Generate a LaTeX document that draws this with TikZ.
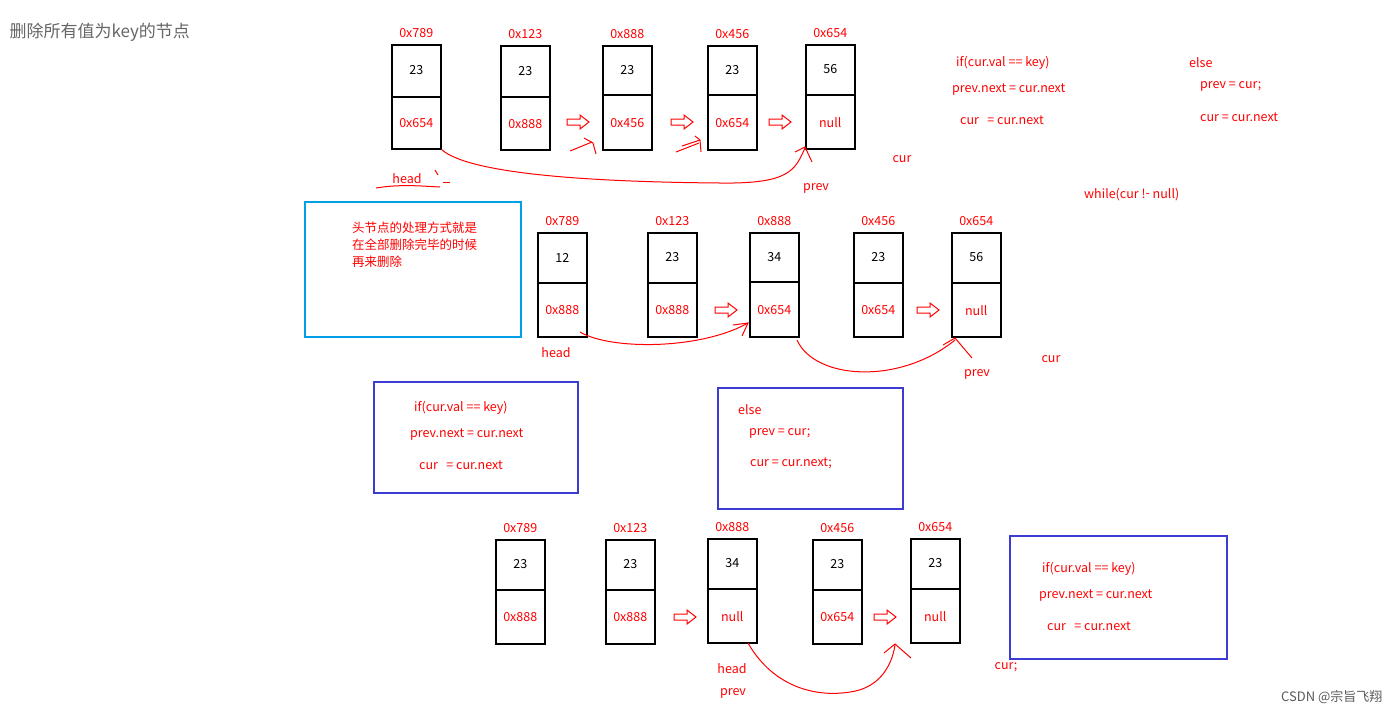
\documentclass[tikz,border=0pt]{standalone}
\usepackage{fontspec}
\setmainfont{Noto Sans CJK SC}
\usetikzlibrary{calc}
\begin{document}
\begin{tikzpicture}[x=1pt,y=-1pt,
  box/.style={draw=black,line width=1.5pt,minimum width=49pt,minimum height=104pt,inner sep=0pt},
  rt/.style={text=red,font=\fontsize{12.5}{15}\selectfont,inner sep=1pt},
  bt/.style={text=black,font=\fontsize{12.5}{15}\selectfont,inner sep=1pt},
  ink/.style={red,line width=1pt},
  cbox/.style={line width=2.2pt,inner sep=0pt}]
\useasboundingbox (0,0) rectangle (1398,716);
\newcommand\nd[7]{% name x y div top bottom addr
  \node[box,anchor=north west] (#1) at (#2,#3) {};
  \draw[line width=1.5pt] (#1.west |- 0,#4) -- (#1.east |- 0,#4);
  \node[rt] (#1a) at ([yshift=11pt]#1.north) {#7};
  \node[bt] (#1t) at ($(#1.north)!0.5!(#1.north |- 0,#4)$) {#5};
  \node[rt] (#1b) at ($(#1.south)!0.5!(#1.south |- 0,#4)$) {#6};}
\newcommand\harrow[2]{\draw[red,line width=1pt] (#1-11,#2-3) -- (#1+2,#2-3) -- (#1+2,#2-7) -- (#1+11,#2) -- (#1+2,#2+7) -- (#1+2,#2+3) -- (#1-11,#2+3) -- cycle;}
\node[anchor=west,text=gray!80!black,font=\fontsize{17}{20}\selectfont] (title) at (6,32) {删除所有值为key的节点};
% row 1
\nd{a1}{391}{44}{97}{23}{0x654}{0x789}
\nd{a2}{500}{45}{97}{23}{0x888}{0x123}
\nd{a3}{602}{45}{95}{23}{0x456}{0x888}
\nd{a4}{707}{45}{95}{23}{0x654}{0x456}
\nd{a5}{805}{44}{95}{56}{null}{0x654}
\harrow{578}{122}\harrow{682}{122}\harrow{780}{122}
\draw[ink] (570,151) -- (592,142); \draw[ink] (584,138) -- (593,143) -- (596,154);
\draw[ink] (676,152) -- (699,143); \draw[ink] (682,146) -- (700,140); \draw[ink] (695,136) -- (700,140) -- (701,152);
\draw[ink] (a1.south east) .. controls (470,175) and (600,182) .. (720,183) .. controls (790,184) and (795,170) .. (805,148);
\draw[ink] (795,152) -- (805,147) -- (812,162);
\node[rt] (h1) at (407,179) {head};
\draw[ink] (376,188) .. controls (400,184) and (420,186) .. (440,187);
\draw[ink] (435,170) -- (438,175); \draw[ink] (443,182) -- (450,182);
\node[rt] (p1) at (816,188) {prev};
\node[rt] (c1) at (902,159) {cur};
\node[rt,anchor=west] (i1) at (955,63) {if(cur.val == key)};
\node[rt,anchor=west] (i2) at (951,90) {prev.next = cur.next};
\node[rt,anchor=west] (i3) at (959,120) {cur \ \ = cur.next};
\node[rt,anchor=west] (e1) at (1188,63) {else};
\node[rt,anchor=west] (e2) at (1199,86) {prev = cur;};
\node[rt,anchor=west] (e3) at (1199,117) {cur = cur.next};
\node[rt,anchor=west] (w1) at (1083,195) {while(cur !\raisebox{1pt}{-} null)};
% row 2
\node[cbox,draw={rgb,255:red,0;green,160;blue,230},minimum width=216pt,minimum height=135pt,anchor=north west] (cb) at (304,201) {};
\node[rt,anchor=north west,align=left] (cbt) at (351,221) {头节点的处理方式就是\\[2pt]在全部删除完毕的时候\\[2pt]再来删除};
\nd{b1}{537}{232}{283}{12}{0x888}{0x789}
\nd{b2}{647}{232}{283}{23}{0x888}{0x123}
\nd{b3}{749}{232}{282}{34}{0x654}{0x888}
\nd{b4}{853}{232}{283}{23}{0x654}{0x456}
\nd{b5}{951}{232}{283}{56}{null}{0x654}
\harrow{726}{310}\harrow{928}{310}
\draw[ink] (580,332) .. controls (610,350) and (700,350) .. (748,323);
\draw[ink] (733,325) -- (748,323) -- (742,336);
\draw[ink] (797,340) .. controls (815,380) and (900,385) .. (955,340);
\draw[ink] (943,345) -- (955,338) -- (972,358);
\node[rt] (h2) at (556,353) {head};
\node[rt] (p2) at (977,374) {prev};
\node[rt] (c2) at (1051,359) {cur};
% code boxes
\node[cbox,draw={rgb,255:red,60;green,60;blue,210},minimum width=204pt,minimum height=111pt,anchor=north west] (k1) at (373,381) {};
\node[rt,anchor=west] (k1a) at (413,408) {if(cur.val == key)};
\node[rt,anchor=west] (k1b) at (409,435) {prev.next = cur.next};
\node[rt,anchor=west] (k1c) at (418,465) {cur \ \ = cur.next};
\node[cbox,draw={rgb,255:red,60;green,60;blue,210},minimum width=185pt,minimum height=121pt,anchor=north west] (k2) at (717,387) {};
\node[rt,anchor=west] (k2a) at (737,410) {else};
\node[rt,anchor=west] (k2b) at (748,433) {prev = cur;};
\node[rt,anchor=west] (k2c) at (749,463) {cur = cur.next;};
\node[cbox,draw={rgb,255:red,60;green,60;blue,210},minimum width=217pt,minimum height=123pt,anchor=north west] (k3) at (1009,535) {};
\node[rt,anchor=west] (k3a) at (1041,569) {if(cur.val == key)};
\node[rt,anchor=west] (k3b) at (1038,596) {prev.next = cur.next};
\node[rt,anchor=west] (k3c) at (1046,626) {cur \ \ = cur.next};
% row 3
\nd{d1}{495}{539}{590}{23}{0x888}{0x789}
\nd{d2}{605}{539}{590}{23}{0x888}{0x123}
\nd{d3}{707}{538}{589}{34}{null}{0x888}
\nd{d4}{812}{539}{590}{23}{0x654}{0x456}
\nd{d5}{910}{538}{589}{23}{null}{0x654}
\harrow{685}{617}\harrow{885}{617}
\draw[ink] (748,643) .. controls (775,690) and (820,697) .. (850,692) .. controls (880,688) and (892,665) .. (895,645);
\draw[ink] (884,653) -- (895,644) -- (911,658);
\node[rt] (h3) at (732,669) {head};
\node[rt] (p3) at (733,693) {prev};
\node[rt] (c3) at (1006,667) {cur;};
\node[anchor=east,text=gray!70!black,font=\fontsize{13}{15}\selectfont] (csdn) at (1386,697) {CSDN @宗旨飞翔};
\end{tikzpicture}
\end{document}
